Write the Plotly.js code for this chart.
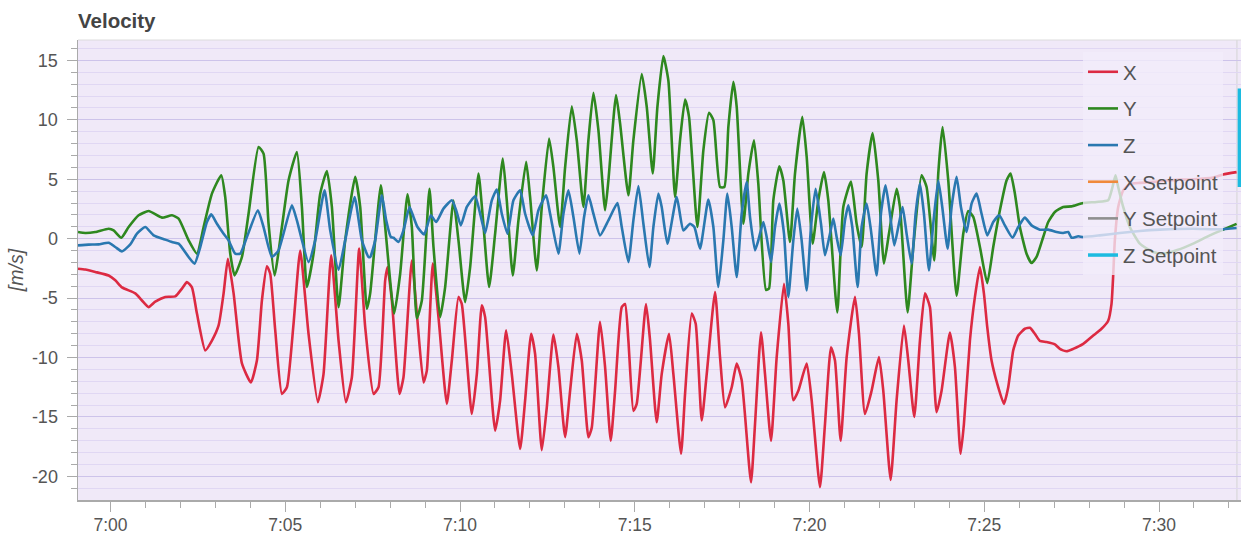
<!DOCTYPE html>
<html>
<head>
<meta charset="utf-8">
<script src="https://cdn.plot.ly/plotly-3.0.1.min.js"></script>
<style>
  html, body { margin: 0; padding: 0; background: #ffffff; }
  #chart { width: 1241px; height: 533px; }
</style>
</head>
<body>
<div id="chart"></div>
<script>
// Time values are minutes after 7:00
const xTime = [-0.93,-0.721,-0.435,-0.053,0.137,0.328,0.709,0.900,1.091,1.281,1.567,1.853,2.044,2.187,2.330,2.473,2.711,2.902,3.093,3.236,3.359,3.522,3.760,4.017,4.189,4.332,4.475,4.570,4.713,4.904,5.047,5.237,5.428,5.666,5.933,6.095,6.315,6.525,6.734,6.906,7.116,7.287,7.526,7.668,7.859,7.926,8.050,8.269,8.383,8.622,8.765,8.955,9.051,9.222,9.384,9.623,9.766,9.956,10.052,10.338,10.481,10.624,10.719,11.005,11.148,11.320,11.482,11.720,11.863,12.035,12.149,12.340,12.483,12.673,12.816,13.007,13.150,13.341,13.484,13.674,13.770,14.008,14.151,14.313,14.437,14.628,14.723,14.818,14.961,15.056,15.323,15.438,15.628,15.771,15.981,16.105,16.325,16.439,16.630,16.744,16.916,17.059,17.297,17.440,17.583,17.774,17.917,18.059,18.326,18.441,18.612,18.727,18.899,19.061,19.270,19.394,19.537,19.680,19.919,20.062,20.300,20.443,20.615,20.729,20.891,21.063,21.301,21.415,21.587,21.777,21.987,22.111,22.321,22.492,22.702,22.826,22.998,23.160,23.303,23.446,23.636,23.779,24.018,24.161,24.323,24.418,24.590,24.733,24.876,24.990,25.086,25.209,25.371,25.562,25.686,25.829,25.972,26.162,26.305,26.448,26.591,26.782,27.021,27.164,27.354,27.545,27.831,28.117,28.355,28.546,28.641,28.689,28.736,28.832,28.975,29.165,29.451,29.833,30.214,30.595,30.977,31.549,31.834,32.22];
const xVel = [-2.53,-2.6,-2.8,-3.1,-3.5,-4.1,-4.6,-5.2,-5.76,-5.3,-4.9,-4.86,-4.2,-3.65,-4.1,-6.3,-9.4,-8.57,-7.3,-4.6,-1.7,-4.6,-10.5,-12.1,-10.25,-5.2,-2.33,-2.95,-7.7,-13.06,-12.5,-7.16,-1.0,-8.0,-13.76,-11.4,-1.4,-8.57,-13.76,-11.66,-0.84,-7.44,-13.06,-12.5,-3.5,-2.39,-5.2,-13.06,-11.66,-1.83,-6.3,-12.1,-11.1,-2.1,-6.6,-13.9,-10.25,-4.9,-5.5,-14.75,-11.4,-5.6,-6.6,-16.15,-13.6,-7.7,-11.4,-17.7,-13.6,-8.0,-9.7,-17.8,-14.2,-8.06,-10.8,-16.7,-12.8,-8.0,-10.25,-16.7,-15.9,-7.0,-10.8,-17.0,-12.8,-5.76,-5.5,-8.57,-14.5,-13.9,-5.5,-8.57,-15.45,-11.4,-8.0,-11.4,-18.1,-13.06,-6.3,-7.16,-15.3,-11.4,-4.5,-9.97,-14.2,-12.5,-10.5,-11.9,-20.5,-15.6,-7.87,-11.4,-17.0,-9.97,-3.8,-7.16,-13.6,-12.8,-10.5,-13.6,-20.9,-15.6,-9.13,-10.25,-17.0,-9.97,-4.9,-8.0,-14.75,-12.8,-9.97,-12.8,-20.3,-13.6,-7.3,-10.25,-15.0,-8.57,-4.6,-5.76,-14.6,-12.8,-7.9,-10.8,-18.1,-15.6,-8.57,-4.9,-2.39,-4.6,-7.44,-10.25,-12.2,-13.9,-12.5,-9.4,-8.15,-7.58,-7.5,-8.0,-8.6,-8.7,-8.9,-9.27,-9.47,-9.27,-8.85,-8.15,-7.58,-6.9,-5.48,-3.1,-0.14,2.67,4.07,4.6,4.7,4.78,4.9,4.97,5.0,5.14,5.4,5.6];

const yTime = [-0.93,-0.721,-0.435,-0.053,0.090,0.309,0.519,0.805,1.091,1.472,1.758,1.949,2.235,2.473,2.664,2.902,3.169,3.283,3.426,3.550,3.760,3.950,4.236,4.379,4.522,4.694,4.904,5.094,5.333,5.476,5.619,5.810,6.000,6.191,6.334,6.525,6.715,7.001,7.144,7.335,7.430,7.735,7.859,8.116,8.288,8.498,8.622,8.765,8.908,9.127,9.241,9.432,9.575,9.813,9.956,10.147,10.290,10.528,10.652,10.833,11.005,11.224,11.339,11.510,11.672,11.892,12.006,12.197,12.340,12.549,12.673,12.864,13.007,13.198,13.341,13.531,13.674,13.817,13.960,14.151,14.246,14.465,14.580,14.818,14.961,15.200,15.343,15.514,15.648,15.819,15.962,16.153,16.296,16.439,16.553,16.792,16.963,17.125,17.249,17.440,17.564,17.678,17.821,17.917,18.107,18.250,18.412,18.536,18.755,18.841,18.965,19.137,19.251,19.442,19.585,19.794,19.919,20.090,20.252,20.414,20.538,20.795,20.967,21.186,21.348,21.491,21.634,21.806,21.968,22.130,22.273,22.492,22.588,22.807,22.969,23.207,23.350,23.570,23.684,23.808,23.970,24.208,24.399,24.542,24.685,24.876,25.086,25.257,25.448,25.638,25.753,25.877,26.019,26.210,26.353,26.496,26.687,26.830,27.021,27.259,27.497,27.831,28.212,28.546,28.670,28.755,28.832,28.975,29.165,29.451,29.833,30.119,30.500,30.977,31.453,31.834,32.22];
const yVel = [0.56,0.48,0.56,0.84,0.7,0.08,0.98,1.97,2.33,1.77,1.97,1.69,-0.14,-1.26,0.98,3.79,5.34,3.5,-1.26,-3.09,-1.54,2.1,7.72,7.16,1.26,-3.09,0.98,4.9,7.3,2.67,-4.07,-1.26,3.79,5.7,2.67,-5.76,-0.14,5.2,2.67,-5.9,-4.6,4.5,1.0,-6.3,-2.95,3.74,0.98,-6.7,-5.2,4.2,-0.7,-6.6,-4.07,3.2,-0.14,-5.34,-2.39,5.48,1.83,-4.07,0.42,6.74,3.2,-3.09,1.54,6.46,3.5,-2.67,2.67,8.43,6.0,0.98,6.0,11.15,8.29,2.67,8.29,12.28,9.13,2.39,4.9,12.08,9.7,3.65,8.29,13.85,11.1,5.48,11.1,15.37,13.3,3.5,8.3,11.7,10.25,0.98,7.44,10.6,9.97,4.35,4.35,9.4,13.2,11.1,1.26,5.48,8.29,4.6,-4.3,-4.2,3.23,6.1,4.9,-0.28,5.48,10.25,6.9,-0.42,3.23,5.6,3.23,-6.2,2.67,4.8,1.26,-0.7,5.48,8.9,4.9,-2.1,0.42,4.2,2.67,-6.2,-0.7,5.34,4.35,-1.83,5.48,9.4,4.9,-4.8,0.42,2.33,1.83,-0.7,-3.74,-0.7,2.39,4.9,5.48,3.79,0.98,-1.26,-2.05,-1.54,0.14,1.4,2.25,2.67,2.72,3.0,3.09,3.23,4.35,5.34,4.35,2.67,0.98,-0.42,-1.12,-1.26,-0.98,-0.42,0.28,0.76,1.25];

const zTime = [-0.93,-0.625,-0.339,-0.053,0.137,0.328,0.566,0.757,0.995,1.234,1.567,1.758,1.949,2.235,2.406,2.568,2.759,2.883,3.045,3.236,3.379,3.569,3.712,3.903,4.217,4.379,4.618,4.808,5.190,5.333,5.666,5.857,6.124,6.286,6.525,6.715,6.982,7.192,7.382,7.430,7.573,7.764,7.888,8.021,8.097,8.240,8.383,8.555,8.669,8.784,8.974,9.165,9.318,9.527,9.766,9.890,10.023,10.195,10.433,10.576,10.719,10.910,11.053,11.196,11.358,11.529,11.720,11.863,12.082,12.244,12.463,12.578,12.816,12.959,13.102,13.245,13.417,13.550,13.674,13.817,14.008,14.246,14.504,14.628,14.818,14.961,15.104,15.247,15.419,15.533,15.676,15.771,15.934,16.201,16.391,16.582,16.706,16.868,17.106,17.249,17.392,17.535,17.650,17.774,17.917,18.059,18.202,18.298,18.441,18.536,18.679,18.774,18.899,19.013,19.137,19.270,19.394,19.537,19.651,19.775,19.919,20.042,20.176,20.328,20.443,20.586,20.681,20.776,20.891,21.015,21.110,21.224,21.377,21.491,21.634,21.758,21.920,22.044,22.177,22.302,22.425,22.540,22.664,22.778,22.921,23.036,23.160,23.274,23.417,23.541,23.684,23.798,23.951,24.065,24.208,24.332,24.494,24.637,24.780,24.923,25.086,25.257,25.429,25.590,25.810,25.972,26.162,26.353,26.591,26.830,27.068,27.259,27.402,27.497,27.688,27.831,28.307,28.879,29.451,30.023,30.977,31.739,32.22];
const zVel = [-0.56,-0.5,-0.48,-0.34,-0.7,-1.07,-0.48,0.42,0.98,0.28,-0.08,-0.28,-0.42,-1.54,-2.1,-0.7,1.4,2.05,1.26,0.42,-0.14,-1.26,-1.26,0.14,2.39,0.98,-1.54,-0.98,2.81,1.54,-1.97,-0.14,4.07,0.7,-2.61,-0.14,3.5,-0.14,-1.54,-1.54,-0.14,3.65,1.54,0.14,0.08,-0.28,0.7,2.67,1.83,0.98,0.36,1.97,1.4,2.53,3.23,2.39,1.12,2.67,3.57,2.1,0.48,3.23,4.13,2.1,0.42,3.23,4.07,2.1,0.28,2.39,3.65,2.1,-1.26,2.1,4.07,1.83,-1.26,1.83,3.65,2.1,0.28,1.54,3.0,0.98,-1.97,1.54,4.44,1.26,-2.39,0.98,3.79,2.67,-0.42,3.5,0.7,1.26,0.98,-0.84,3.3,0.98,-4.07,-0.14,3.79,0.98,-3.23,2.1,4.77,1.83,-0.98,-0.14,1.4,0.14,-1.97,0.98,2.95,0.42,-4.9,-0.14,2.53,-0.14,-4.35,0.98,4.2,1.26,-1.4,0.42,1.69,0.14,-1.4,1.54,2.81,0.98,-4.07,0.98,2.95,0.7,-3.09,2.1,4.49,2.1,-0.56,0.98,2.67,0.42,-2.1,2.1,4.63,2.1,-2.67,1.26,4.9,2.67,-0.84,2.67,5.2,2.67,0.56,2.95,3.79,2.1,0.28,1.4,1.97,1.12,0.08,0.98,1.77,1.12,0.76,0.76,0.56,0.48,0.56,0.08,0.2,0.14,0.28,0.48,0.65,0.76,0.84,0.79,0.9];

const xSpTime = [null];
const xSpVel = [null];
const ySpTime = [null];
const ySpVel = [null];
const zSpTime = [32.30, 32.30, 32.30];
const zSpVel = [12.64, 8.5, 4.35];

const xTickMinutes = [0, 5, 10, 15, 20, 25, 30];
const xTickText = ['7:00', '7:05', '7:10', '7:15', '7:20', '7:25', '7:30'];
const yTickVals = [-20, -15, -10, -5, 0, 5, 10, 15];
const yTickText = ['-20', '-15', '-10', '-5', '0', '5', '10', '15'];

const baseMs = Date.UTC(2024, 0, 1, 7, 0, 0);
function toDate(m) {
  if (m === null) return null;
  return new Date(baseMs + m * 60000).toISOString().replace('T', ' ').replace('Z', '');
}

const fontFam = '"Liberation Sans", Arial, sans-serif';

function mk(name, t, v, color, group) {
  return {
    type: 'scatter', mode: 'lines', name: name, legendgroup: group,
    x: t.map(toDate), y: v,
    line: { color: color, width: 2.6, shape: 'spline', smoothing: 0.5 },
    hoverinfo: 'skip'
  };
}

const traces = [
  mk('X', xTime, xVel, '#dc2a42', 'g1'),
  mk('Y', yTime, yVel, '#2e881f', 'g2'),
  mk('Z', zTime, zVel, '#2a78b0', 'g3'),
  mk('X Setpoint', xSpTime, xSpVel, '#f0893a', 'g4'),
  mk('Y Setpoint', ySpTime, ySpVel, '#8f8f8f', 'g5'),
  mk('Z Setpoint', zSpTime, zSpVel, '#1cbbe0', 'g6')
];
traces[5].line.shape = 'linear';
traces[5].line.width = 3.5;

const xEnd = 32.346;

const layout = {
  width: 1241, height: 533,
  margin: { l: 78, r: 0, t: 40, b: 33 },
  paper_bgcolor: '#ffffff',
  plot_bgcolor: '#f0e9f8',
  font: { family: fontFam, color: '#444' },
  title: {
    text: 'Velocity', x: 0, xref: 'paper', xanchor: 'left',
    y: 1 - 21 / 533, yref: 'container', yanchor: 'middle',
    font: { family: fontFam, size: 20.5, weight: 'bold', color: '#444' }
  },
  showlegend: true,
  legend: {
    x: (1083 - 78) / 1163, xanchor: 'left', y: 0.974, yanchor: 'top',
    bgcolor: 'rgba(242,237,250,0.78)', borderwidth: 0,
    font: { family: fontFam, size: 20.5, color: '#555' },
    traceorder: 'grouped', tracegroupgap: 7
  },
  xaxis: {
    type: 'date',
    range: [toDate(-0.93), toDate(xEnd)],
    tickmode: 'array',
    tickvals: xTickMinutes.map(toDate),
    ticktext: xTickText,
    ticks: 'outside', ticklen: 10, tickcolor: '#aaa', tickwidth: 1,
    showgrid: false, zeroline: false,
    showline: true, linecolor: '#aaa', linewidth: 1.5,
    tickfont: { family: fontFam, size: 17.5, color: '#555' },
    ticklabelstandoff: -2,
    minor: { dtick: 60000, tick0: toDate(0), ticks: 'outside', ticklen: 6, tickcolor: '#aaa', showgrid: false }
  },
  yaxis: {
    range: [-21.99, 16.72],
    tickmode: 'array', tickvals: yTickVals, ticktext: yTickText,
    ticks: 'outside', ticklen: 10, tickcolor: '#aaa', tickwidth: 1,
    showgrid: true, gridcolor: '#cdc3ea', gridwidth: 1,
    zeroline: false,
    showline: true, linecolor: '#aaa', linewidth: 1.5,
    tickfont: { family: fontFam, size: 18, color: '#555' },
    ticklabelstandoff: 5,
    title: { text: '[m/s]', standoff: 3, font: { family: fontFam, size: 19.5, style: 'italic', color: '#555' } },
    minor: { tickmode: 'linear', tick0: 0, dtick: 1, ticks: 'outside', ticklen: 6, tickcolor: '#aaa', showgrid: true, gridcolor: '#e0d7f3', gridwidth: 1 }
  },
  shapes: [
    { type: 'line', xref: 'paper', yref: 'paper', x0: 0, x1: 1, y0: 1, y1: 1, line: { color: '#dcdcdc', width: 1 } },
    { type: 'line', xref: 'x', yref: 'paper', x0: toDate(32.23), x1: toDate(32.23), y0: 0, y1: 1, line: { color: '#d4d4d4', width: 1 }, layer: 'below' }
  ]
};

Plotly.newPlot('chart', traces, layout, { displayModeBar: false, staticPlot: true });
</script>
</body>
</html>
